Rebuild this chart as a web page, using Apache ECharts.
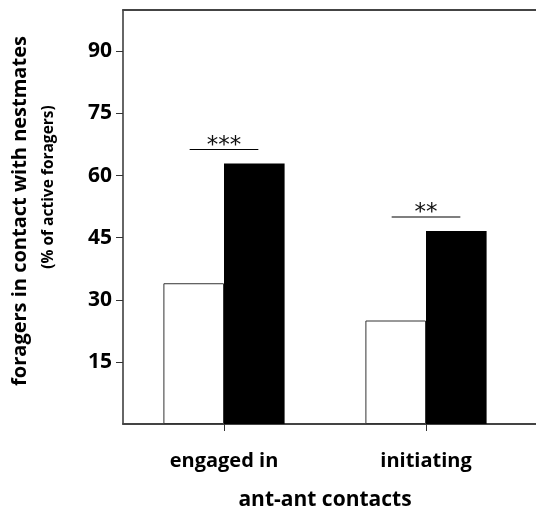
<!DOCTYPE html>
<html>
<head>
<meta charset="utf-8">
<script src="https://cdn.jsdelivr.net/npm/echarts@6/dist/echarts.min.js"></script>
<style>
html,body{margin:0;padding:0;background:#fff;}
#chart{width:536px;height:508px;}
</style>
</head>
<body>
<div id="chart"></div>
<script>
var categories = ['engaged in', 'initiating'];
var seriesWhite = [34.0, 25.0];
var seriesBlack = [62.9, 46.6];
var sigLevels = [66.3, 50.0];
var sigLabels = ['***', '**'];
var yTicks = [15, 30, 45, 60, 75, 90];

var FONT = '"Open Sans", "Noto Sans", sans-serif';
var chart = echarts.init(document.getElementById('chart'));

var sigData = categories.map(function (c, i) { return [i, sigLevels[i], sigLabels[i]]; });

var option = {
  animation: false,
  backgroundColor: '#fff',
  grid: [
    { left: 123, right: 9, top: 10, bottom: 84, containLabel: false, outerBoundsMode: 'none' },
    { left: 123, right: 0, top: 10, bottom: 84, containLabel: false, outerBoundsMode: 'none' }
  ],
  xAxis: [
    {
      type: 'category', gridIndex: 0, data: categories,
      axisLine: { show: false },
      axisTick: { show: true, alignWithLabel: true, length: 7, lineStyle: { color: '#333', width: 1 } },
      axisLabel: { color: '#000', fontFamily: FONT, fontWeight: 'bold', fontSize: 20, margin: 27 },
      name: 'ant-ant contacts', nameLocation: 'middle', nameGap: 66,
      nameTextStyle: { color: '#000', fontFamily: FONT, fontWeight: 'bold', fontSize: 21 }
    },
    {
      type: 'value', gridIndex: 1, position: 'bottom', min: 0, max: 1,
      axisLine: { show: true, onZero: false, lineStyle: { color: '#444', width: 2 } },
      axisTick: { show: false }, axisLabel: { show: false }, splitLine: { show: false }
    },
    {
      type: 'value', gridIndex: 1, position: 'top', min: 0, max: 1,
      axisLine: { show: true, onZero: false, lineStyle: { color: '#444', width: 2 } },
      axisTick: { show: false }, axisLabel: { show: false }, splitLine: { show: false }
    }
  ],
  yAxis: [
    {
      type: 'value', gridIndex: 0, min: 0, max: 100, interval: 15,
      axisLine: { show: true, lineStyle: { color: '#333', width: 1.5 } },
      axisTick: { show: true, length: 7, lineStyle: { color: '#333' },
        customValues: yTicks },
      axisLabel: { color: '#000', fontFamily: FONT, fontWeight: 'bold', fontSize: 21, margin: 11,
        customValues: yTicks },
      splitLine: { show: false }
    },
    {
      type: 'value', gridIndex: 1, min: 0, max: 1, show: false
    }
  ],
  series: [
    {
      type: 'bar', xAxisIndex: 0, yAxisIndex: 0, data: seriesWhite,
      barWidth: '30%', barGap: '0%',
      itemStyle: { color: '#fff', borderColor: '#333', borderWidth: 1 }
    },
    {
      type: 'bar', xAxisIndex: 0, yAxisIndex: 0, data: seriesBlack,
      barWidth: '30%', barGap: '0%',
      itemStyle: { color: '#000', borderColor: '#000', borderWidth: 0 }
    },
    {
      type: 'custom', xAxisIndex: 0, yAxisIndex: 0, data: sigData,
      renderItem: function (params, api) {
        var p = api.coord([api.value(0), api.value(1)]);
        var band = api.size([1, 0])[0];
        var hw = band * 0.17;
        return {
          type: 'group',
          children: [
            { type: 'line', shape: { x1: p[0] - hw, y1: p[1], x2: p[0] + hw, y2: p[1] },
              style: { stroke: '#000', lineWidth: 1.2 } },
            { type: 'text', x: p[0], y: p[1] + 8,
              style: { text: sigLabels[params.dataIndex], textAlign: 'center', textVerticalAlign: 'bottom',
                font: '23px "DejaVu Sans", sans-serif', fill: '#111' } }
          ]
        };
      }
    }
  ],
  graphic: [
    { type: 'text', x: 20, y: 211, rotation: Math.PI / 2,
      style: { text: 'foragers in contact with nestmates', textAlign: 'center', textVerticalAlign: 'middle',
        font: 'bold 20px "Open Sans", sans-serif', fill: '#000' } },
    { type: 'text', x: 49, y: 187, rotation: Math.PI / 2,
      style: { text: '(% of active foragers)', textAlign: 'center', textVerticalAlign: 'middle',
        font: 'bold 15.5px "Open Sans", sans-serif', fill: '#000' } }
  ]
};
chart.setOption(option);
</script>
</body>
</html>
